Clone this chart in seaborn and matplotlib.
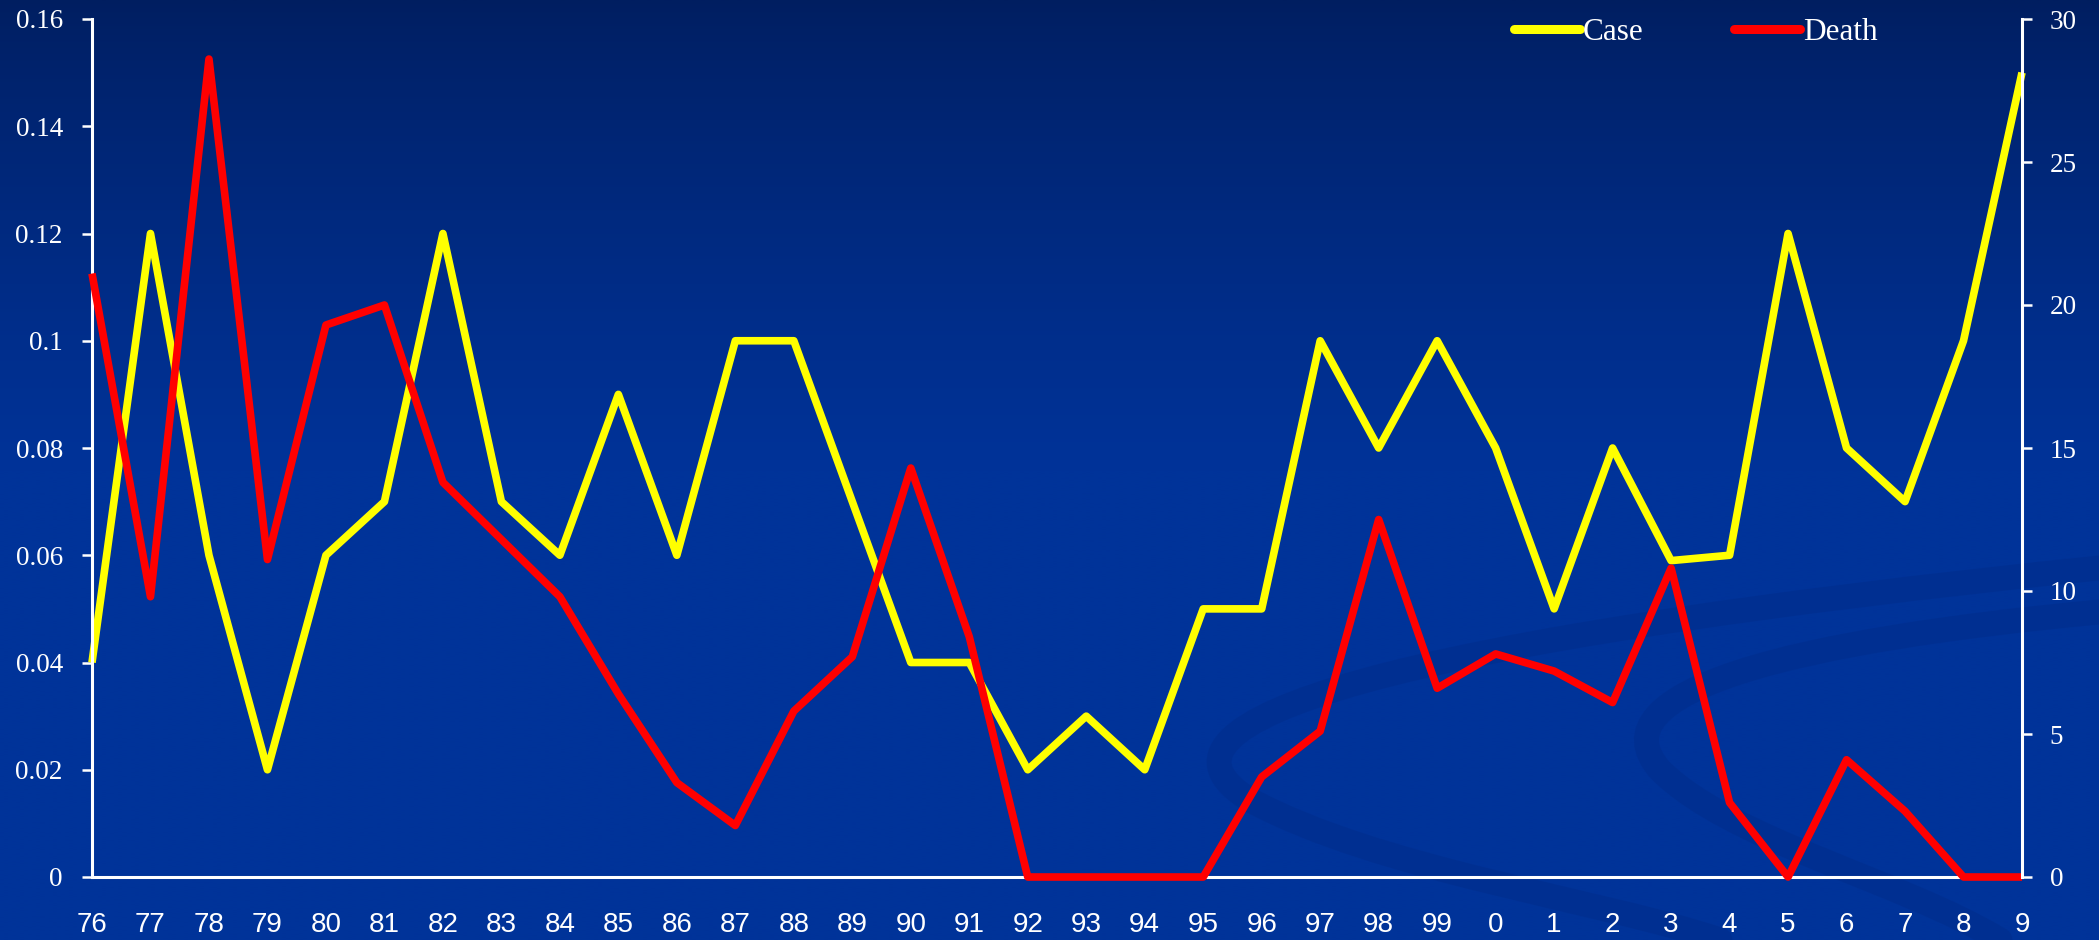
import numpy as np
import pandas as pd
import matplotlib
matplotlib.use("Agg")
import matplotlib.pyplot as plt
import seaborn as sns
from matplotlib.path import Path
from matplotlib.patches import PathPatch
from matplotlib.lines import Line2D

# ---- data ----
years = ['76', '77', '78', '79', '80', '81', '82', '83', '84', '85', '86', '87',
         '88', '89', '90', '91', '92', '93', '94', '95', '96', '97', '98', '99',
         '0', '1', '2', '3', '4', '5', '6', '7', '8', '9']
case = [0.04, 0.12, 0.06, 0.02, 0.06, 0.07, 0.12, 0.07, 0.06, 0.09, 0.06, 0.10,
        0.10, 0.07, 0.04, 0.04, 0.02, 0.03, 0.02, 0.05, 0.05, 0.10, 0.08, 0.10,
        0.08, 0.05, 0.08, 0.059, 0.06, 0.12, 0.08, 0.07, 0.10, 0.15]
death = [21.1, 9.8, 28.6, 11.1, 19.3, 20.0, 13.8, 11.8, 9.8, 6.4, 3.3, 1.8,
         5.8, 7.7, 14.3, 8.4, 0, 0, 0, 0, 3.5, 5.1, 12.5, 6.6,
         7.8, 7.2, 6.1, 10.8, 2.6, 0, 4.1, 2.3, 0, 0]
left_ticks = [0, 0.02, 0.04, 0.06, 0.08, 0.10, 0.12, 0.14, 0.16]
left_labels = ['0', '0.02', '0.04', '0.06', '0.08', '0.1', '0.12', '0.14', '0.16']
right_ticks = [0, 5, 10, 15, 20, 25, 30]

df = pd.DataFrame({'pos': np.arange(len(years)), 'Case': case, 'Death': death})

sns.set_theme(style="white")
plt.rcParams['font.family'] = ['Liberation Serif', 'DejaVu Sans']

W, H = 2099, 940
fig = plt.figure(figsize=(W / 100, H / 100), dpi=100)

# ---- background gradient + swooshes ----
bg = fig.add_axes([0, 0, 1, 1], zorder=0)
t = np.linspace(0, 1, 400)[:, None]
top = np.array([0, 30, 96]) / 255
mid = np.array([0, 51, 153]) / 255
f = np.clip(t / 0.5, 0, 1) ** 0.8
grad = top[None, None, :] * (1 - f[..., None]) + mid[None, None, :] * f[..., None]
grad = np.repeat(grad, 2, axis=1)
bg.imshow(grad, extent=[0, W, H, 0], aspect='auto', interpolation='bilinear')
sw = '#002e8e'
p1 = Path([(2099, 568), (1400, 640), (1120, 720), (1250, 800),
           (1380, 870), (1600, 900), (1720, 940)],
          [Path.MOVETO, Path.CURVE4, Path.CURVE4, Path.CURVE4,
           Path.CURVE4, Path.CURVE4, Path.CURVE4])
p2 = Path([(2099, 612), (1800, 640), (1590, 690), (1660, 770),
           (1730, 840), (1900, 880), (2000, 940)],
          [Path.MOVETO, Path.CURVE4, Path.CURVE4, Path.CURVE4,
           Path.CURVE4, Path.CURVE4, Path.CURVE4])
for p in (p1, p2):
    bg.add_patch(PathPatch(p, facecolor='none', edgecolor=sw, lw=18, alpha=0.65,
                           capstyle='round'))
bg.set_xlim(0, W)
bg.set_ylim(H, 0)
bg.axis('off')

# ---- main axes ----
x0, x1, ytop, ybot = 92, 2022, 19, 877
rect = [x0 / W, 1 - ybot / H, (x1 - x0) / W, (ybot - ytop) / H]
ax = fig.add_axes(rect, zorder=1)
ax.patch.set_alpha(0)
ax2 = ax.twinx()
ax2.patch.set_alpha(0)

sns.lineplot(data=df, x='pos', y='Case', ax=ax, color='#FFFF00', lw=5.5,
             legend=False, clip_on=False, solid_joinstyle='round',
             solid_capstyle='butt')
sns.lineplot(data=df, x='pos', y='Death', ax=ax2, color='#FF0000', lw=5.5,
             legend=False, clip_on=False, solid_joinstyle='round',
             solid_capstyle='butt')

ax.set_xlim(0, len(years) - 1)
ax.set_ylim(0, 0.16)
ax2.set_ylim(0, 30)
ax.set_xlabel('')
ax.set_ylabel('')
ax2.set_ylabel('')

ax.set_xticks(range(len(years)))
ax.set_xticklabels(years, fontfamily='Liberation Sans', fontsize=20, color='white')
ax.set_yticks(left_ticks)
ax.set_yticklabels(left_labels, fontsize=19.5, color='white')
ax2.set_yticks(right_ticks)
ax2.set_yticklabels([str(v) for v in right_ticks], fontsize=19.5, color='white')

ax.tick_params(axis='x', length=0, pad=25)
ax.tick_params(axis='y', length=7, width=1.8, color='white', pad=14, direction='out')
ax2.tick_params(axis='y', length=7, width=1.8, color='white', pad=13, direction='out')

for a in (ax, ax2):
    for s in a.spines.values():
        s.set_visible(False)
ax.spines['left'].set_visible(True)
ax.spines['bottom'].set_visible(True)
ax2.spines['right'].set_visible(True)
for s in (ax.spines['left'], ax.spines['bottom'], ax2.spines['right']):
    s.set_color('white')
    s.set_linewidth(2.2)
ax.grid(False)
ax2.grid(False)

handles = [Line2D([], [], color='#FFFF00', lw=6.5, solid_capstyle='round'),
           Line2D([], [], color='#FF0000', lw=6.5, solid_capstyle='round')]
leg = fig.legend(handles, ['Case', 'Death'], loc='center left',
                 bbox_to_anchor=(1514 / W, 1 - 32 / H), bbox_transform=fig.transFigure,
                 ncol=2, frameon=False, fontsize=22.5, handlelength=2.1,
                 handletextpad=0.1, columnspacing=2.9, borderpad=0, borderaxespad=0)
for txt in leg.get_texts():
    txt.set_color('white')

fig.savefig('out.png', dpi=100)
